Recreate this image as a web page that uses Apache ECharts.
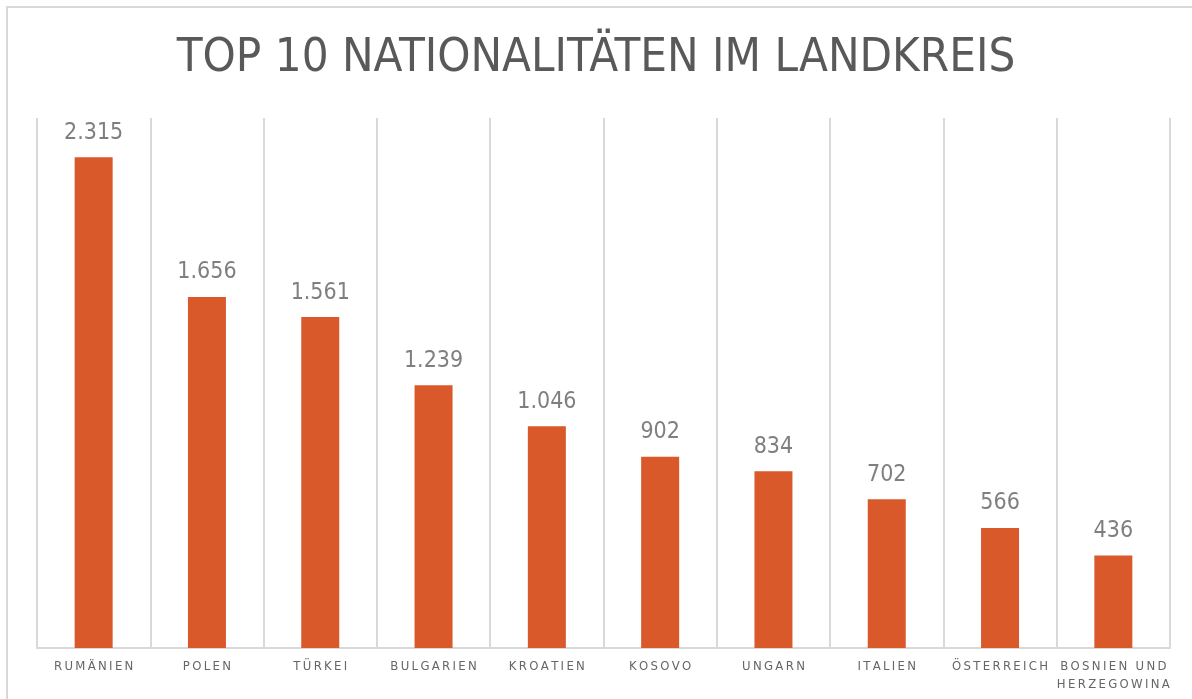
<!DOCTYPE html>
<html>
<head>
<meta charset="utf-8">
<script src="https://cdn.jsdelivr.net/npm/echarts@6/dist/echarts.min.js"></script>
<style>
  html, body { margin: 0; padding: 0; background: #fff; }
  #chart { width: 1192px; height: 699px; }
</style>
</head>
<body>
<div id="chart"></div>
<script>
var titleText = 'TOP 10 NATIONALITÄTEN IM LANDKREIS';
var categories = ['RUMÄNIEN', 'POLEN', 'TÜRKEI', 'BULGARIEN', 'KROATIEN', 'KOSOVO', 'UNGARN', 'ITALIEN', 'ÖSTERREICH', 'BOSNIEN UND\nHERZEGOWINA'];
var values = [2315, 1656, 1561, 1239, 1046, 902, 834, 702, 566, 436];

var narrow = '"Liberation Sans Narrow", "DejaVu Sans Condensed", sans-serif';

// Buchstaben sperren wie im Original
function spaced(text) {
    return text.split('\n').map(function (line) {
        return line.split('').join('\u200A\u200A');
    }).join('\n');
}

// Tausenderpunkt
function formatNum(v) {
    return String(v).replace(/\B(?=(\d{3})+(?!\d))/g, '.');
}

var myChart = echarts.init(document.getElementById('chart'));
var option = {
    backgroundColor: '#fff',
    animation: false,
    title: {
        text: titleText,
        left: 'center',
        top: 30,
        textStyle: {
            fontFamily: narrow,
            fontSize: 47,
            fontWeight: 'normal',
            color: '#595959'
        }
    },
    graphic: [{
        type: 'rect',
        shape: { x: 7, y: 7, width: 1200, height: 720 },
        style: { fill: 'none', stroke: '#d9d9d9', lineWidth: 2 },
        silent: true
    }],
    grid: {
        left: 37,
        right: 22,
        top: 118,
        bottom: 51
    },
    xAxis: {
        type: 'category',
        data: categories,
        axisLine: { show: true, lineStyle: { color: '#d9d9d9', width: 2 } },
        axisTick: { show: false },
        splitLine: { show: true, lineStyle: { color: '#d9d9d9', width: 2 } },
        axisLabel: {
            interval: 0,
            margin: 10,
            fontFamily: narrow,
            fontSize: 13,
            lineHeight: 18,
            color: '#666666',
            formatter: function (v) { return spaced(v); }
        }
    },
    yAxis: {
        type: 'value',
        min: 0,
        max: 2500,
        show: false,
        splitLine: { show: false }
    },
    series: [{
        type: 'bar',
        data: values,
        barWidth: 38,
        itemStyle: { color: '#D9592A' },
        label: {
            show: true,
            position: 'top',
            distance: 13,
            fontFamily: narrow,
            fontSize: 23,
            color: '#7f7f7f',
            formatter: function (p) { return formatNum(p.value); }
        }
    }]
};
myChart.setOption(option);
</script>
</body>
</html>
